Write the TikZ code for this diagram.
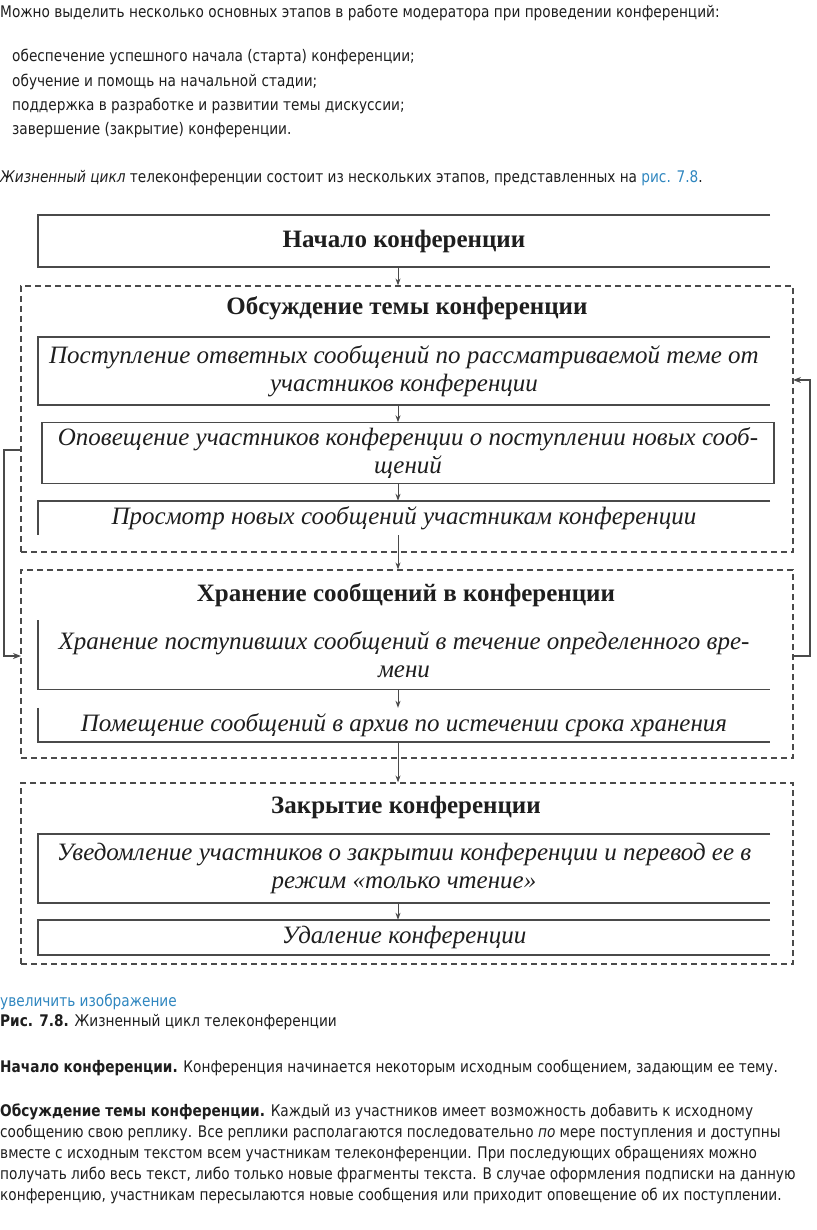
\documentclass[tikz,border=0pt]{standalone}
\usepackage{fontspec}
\setmainfont{DejaVu Sans}[FakeStretch=0.855]
\newfontfamily\figfont{Liberation Serif}
\usetikzlibrary{positioning,arrows.meta}
\definecolor{linkblue}{HTML}{2F86BF}
\definecolor{frame}{HTML}{4A4A4A}
\definecolor{ink}{HTML}{1E1E1E}

\begin{document}
\begin{tikzpicture}[x=1pt, y=-1pt,
    para/.style={anchor=west, inner sep=0pt, text=ink, font=\fontsize{16}{19}\selectfont},
    stagebox/.style={minimum width=732pt, inner sep=0pt, align=center, text=ink,
        font=\figfont\itshape\fontsize{25}{28}\selectfont},
    headbox/.style={minimum width=732pt, inner sep=0pt, text=ink,
        font=\figfont\bfseries\fontsize{25}{28}\selectfont},
    grouptitle/.style={inner sep=0pt, text=ink, font=\figfont\bfseries\fontsize{25}{28}\selectfont},
    group/.style={draw=frame, line width=1.2pt, dash pattern=on 6pt off 4pt,
        minimum width=772pt, inner sep=0pt},
    edge/.style={draw=frame, line width=1.5pt},
    flow/.style={draw=frame, line width=0.9pt, -{Stealth[length=7pt, width=5pt]}},
    loopline/.style={draw=frame, line width=1.2pt, -{Stealth[length=8pt, width=6pt]}}
]
    \useasboundingbox (0,0) rectangle (816,1230);

    % text above the figure
    \node[para] (intro) at (0,13) {Можно выделить несколько основных этапов в работе модератора при проведении конференций:};
    \node[para] (item1) at (12,57) {обеспечение успешного начала (старта) конференции;};
    \node[para] (item2) at (12,82) {обучение и помощь на начальной стадии;};
    \node[para] (item3) at (12,106) {поддержка в разработке и развитии темы дискуссии;};
    \node[para] (item4) at (12,130) {завершение (закрытие) конференции.};
    \node[para] (cycle) at (0,178) {\textit{Жизненный цикл} телеконференции состоит из нескольких этапов, представленных на \textcolor{linkblue}{рис. 7.8}.};

    % Start of the conference
    \node[headbox, minimum height=52pt] (start) at (404,241) {Начало конференции};
    \draw[edge] (start.north east) -- (start.north west) -- (start.south west) -- (start.south east);

    % Discussion group
    \node[group, minimum height=266pt] (disc) at (407,419) {};
    \node[grouptitle] (discT) at (407,308) {Обсуждение темы конференции};
    \node[stagebox, minimum height=68pt] (d1) at (404,371) {Поступление ответных сообщений по рассматриваемой теме от\\участников конференции};
    \node[stagebox, minimum height=61pt] (d2) at (408,453) {Оповещение участников конференции о поступлении новых сооб-\\щений};
    \node[stagebox, minimum height=34pt] (d3) at (404,518) {Просмотр новых сообщений участникам конференции};
    \draw[edge] (d1.north east) -- (d1.north west) -- (d1.south west) -- (d1.south east);
    \draw[edge] (d2.north west) rectangle (d2.south east);
    \draw[edge] (d3.north east) -- (d3.north west) -- (d3.south west);

    % Storage group
    \node[group, minimum height=188pt] (store) at (407,664) {};
    \node[grouptitle] (storeT) at (406,595) {Хранение сообщений в конференции};
    \node[stagebox, minimum height=69pt] (s1) at (404,655) {Хранение поступивших сообщений в течение определенного вре-\\мени};
    \node[stagebox, minimum height=34pt] (s2) at (404,725) {Помещение сообщений в архив по истечении срока хранения};
    \draw[edge] (s1.north west) -- (s1.south west) -- (s1.south east);
    \draw[edge] (s2.north west) -- (s2.south west) -- (s2.south east);

    % Closing group
    \node[group, minimum height=181pt] (close) at (407,873.5) {};
    \node[grouptitle] (closeT) at (406,807) {Закрытие конференции};
    \node[stagebox, minimum height=69pt] (c1) at (404,868.5) {Уведомление участников о закрытии конференции и перевод ее в\\режим «только чтение»};
    \node[stagebox, minimum height=35pt] (c2) at (404,937.5) {Удаление конференции};
    \draw[edge] (c1.north east) -- (c1.north west) -- (c1.south west) -- (c1.south east);
    \draw[edge] (c2.north east) -- (c2.north west) -- (c2.south west) -- (c2.south east);

    % Arrows down the middle
    \coordinate (axis) at (398,0);
    \draw[flow] (start.south -| axis) -- (disc.north -| axis);
    \draw[flow] (d1.south -| axis) -- (d2.north -| axis);
    \draw[flow] (d2.south -| axis) -- (d3.north -| axis);
    \draw[flow] (d3.south -| axis) -- (store.north -| axis);
    \draw[flow] (s1.south -| axis) -- (s2.north -| axis);
    \draw[flow] (s2.south -| axis) -- (close.north -| axis);
    \draw[flow] (c1.south -| axis) -- (c2.north -| axis);

    % Feedback loops
    \coordinate (outL) at (21,450);
    \coordinate (inL) at (21,656);
    \coordinate (outR) at (793,656);
    \coordinate (inR) at (793,380);
    \draw[loopline] (outL) -- ++(-17,0) |- (inL);
    \draw[loopline] (outR) -- ++(17,0) |- (inR);

    % text below the figure
    \node[para, text=linkblue] (zoomlink) at (0,1002) {увеличить изображение};
    \node[para] (caption) at (0,1022) {\textbf{Рис. 7.8.} Жизненный цикл телеконференции};
    \node[para] (p1) at (0,1068) {\textbf{Начало конференции.} Конференция начинается некоторым исходным сообщением, задающим ее тему.};
    \node[para] (p2a) at (0,1112) {\textbf{Обсуждение темы конференции.} Каждый из участников имеет возможность добавить к исходному};
    \node[para] (p2b) at (0,1133) {сообщению свою реплику. Все реплики располагаются последовательно \textit{по} мере поступления и доступны};
    \node[para] (p2c) at (0,1154) {вместе с исходным текстом всем участникам телеконференции. При последующих обращениях можно};
    \node[para] (p2d) at (0,1175) {получать либо весь текст, либо только новые фрагменты текста. В случае оформления подписки на данную};
    \node[para] (p2e) at (0,1196) {конференцию, участникам пересылаются новые сообщения или приходит оповещение об их поступлении.};
\end{tikzpicture}
\end{document}
